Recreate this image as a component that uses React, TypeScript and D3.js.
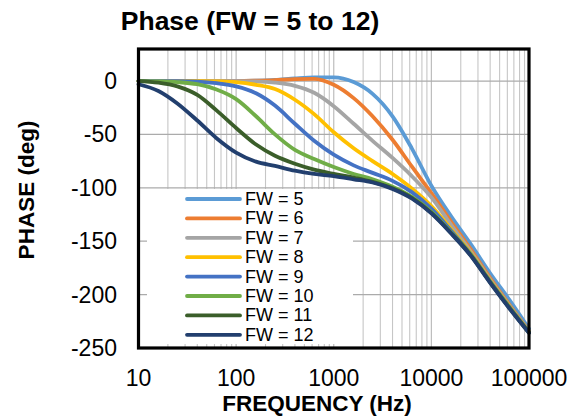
import React from "react";
import * as d3 from "d3";

const FREQ = [10, 16, 25, 40, 63, 100, 160, 250, 400, 630, 1000, 1600, 2500, 4000, 6300, 10000, 16000, 25000, 40000, 63000, 100000];

const FW5 = [0, 0, 0, 0, 0, 0, 0.3, 1, 2.5, 3.5, 3.5, -1, -12, -33, -63, -98, -127, -152, -180, -205, -232];
const FW6 = [0, 0, 0, 0, 0, 0, 0.3, 0.8, 1.8, 2, -3.5, -16, -33, -55, -80, -105, -132, -157, -184.5, -209.5, -234];
const FW7 = [0, 0, 0, 0, 0, 0, -0.3, -1.5, -4.5, -11, -23.5, -40, -56, -72, -89, -109, -135, -159, -186, -210.5, -234.5];
const FW8 = [0, 0, 0, 0, -0.3, -1, -3.5, -7.5, -17.5, -31, -48, -63, -75, -87, -100.5, -117, -139, -160.5, -187, -211, -235];
const FW9 = [0, 0, 0, -0.5, -2, -5, -11.5, -23, -40, -56, -69, -79, -86, -93.5, -104, -119.5, -140.5, -161.5, -187.5, -211.5, -235];
const FW10 = [0, -0.3, -1, -3, -8, -17, -33, -50, -64.5, -73, -80.5, -87, -92, -99, -108.5, -122.5, -142, -162, -188, -212, -235.5];
const FW11 = [0, -1.5, -5, -13, -27.5, -44, -59.5, -70, -77.5, -83, -87, -90.5, -94.5, -100.5, -109.5, -123.5, -142.5, -162.5, -188.5, -212.5, -235.5];
const FW12 = [-3, -9.3, -21, -37, -53.5, -67, -75.5, -79.5, -84, -87, -89, -92, -95, -101, -110, -124, -143, -163, -189, -213, -236];

const SERIES_NAMES = ["FW = 5", "FW = 6", "FW = 7", "FW = 8", "FW = 9", "FW = 10", "FW = 11", "FW = 12"];
const SERIES_VALUES = [FW5, FW6, FW7, FW8, FW9, FW10, FW11, FW12];
const COLORS = ["#5B9BD5", "#ED7D31", "#A5A5A5", "#FFC000", "#4472C4", "#70AD47", "#3B5E2A", "#223F6E"];

const Y_TICKS = [0, -50, -100, -150, -200, -250];
const X_TICKS = [10, 100, 1000, 10000, 100000];
const X_TICK_LABELS = ["10", "100", "1000", "10000", "100000"];

const TITLE = "Phase (FW = 5 to 12)";
const X_TITLE = "FREQUENCY (Hz)";
const Y_TITLE = "PHASE (deg)";

const W = 579;
const H = 417;
const PL = 138.5;
const PR = 529;
const PT = 49;
const PB = 348;
const FONT = "Arial, 'Liberation Sans', Helvetica, sans-serif";

export default function App() {
  const x = d3.scaleLog().domain([10, 100000]).range([PL, PR]);
  const y = d3.scaleLinear().domain([-250, 30]).range([PB, PT]);

  const minor: number[] = [];
  for (let dec = 10; dec < 100000; dec *= 10) {
    for (let m = 2; m <= 9; m++) minor.push(dec * m);
  }

  const line = d3
    .line<[number, number]>()
    .x((d) => x(d[0]))
    .y((d) => y(d[1]))
    .curve(d3.curveMonotoneX);

  const legX1 = 187;
  const legX2 = 240;
  const legY0 = 199;
  const legStep = 19.4;

  return (
    <svg width={W} height={H} style={{ position: "absolute", left: 0, top: 0, background: "#fff" }} fontFamily={FONT}>
      <rect x={0} y={0} width={W} height={H} fill="#fff" />
      {minor.map((f) => (
        <line key={"m" + f} x1={x(f)} x2={x(f)} y1={PT} y2={PB} stroke="#C6C6C6" strokeWidth={1.1} />
      ))}
      {X_TICKS.map((f) => (
        <line key={"M" + f} x1={x(f)} x2={x(f)} y1={PT} y2={PB} stroke="#BDBDBD" strokeWidth={1.2} />
      ))}
      {Y_TICKS.map((v) => (
        <line key={"h" + v} x1={PL} x2={PR} y1={y(v)} y2={y(v)} stroke="#ABABAB" strokeWidth={1.2} />
      ))}
      {SERIES_VALUES.map((vals, i) => (
        <path
          key={SERIES_NAMES[i]}
          d={line(FREQ.map((f, j) => [f, vals[j]] as [number, number])) || ""}
          fill="none"
          stroke={COLORS[i]}
          strokeWidth={3.8}
          strokeLinejoin="round"
          strokeLinecap="round"
        />
      ))}
      <rect x={147} y={189} width={206} height={155} fill="#fff" />
      {SERIES_NAMES.map((name, i) => (
        <g key={"lg" + name}>
          <line
            x1={legX1}
            x2={legX2}
            y1={legY0 + i * legStep}
            y2={legY0 + i * legStep}
            stroke={COLORS[i]}
            strokeWidth={3.8}
            strokeLinecap="round"
          />
          <text x={245} y={legY0 + i * legStep} dominantBaseline="central" fontSize={18} fill="#000">
            {name}
          </text>
        </g>
      ))}
      <rect x={PL} y={PT} width={PR - PL} height={PB - PT} fill="none" stroke="#000" strokeWidth={3.2} />
      {Y_TICKS.map((v) => (
        <text key={"yl" + v} x={117} y={y(v)} textAnchor="end" dominantBaseline="central" fontSize={23} fill="#000">
          {v}
        </text>
      ))}
      {X_TICKS.map((f, i) => (
        <text key={"xl" + f} x={x(f)} y={386} textAnchor="middle" fontSize={23} fill="#000">
          {X_TICK_LABELS[i]}
        </text>
      ))}
      <text x={250} y={30} textAnchor="middle" fontSize={26.5} fontWeight="bold" fill="#000">
        {TITLE}
      </text>
      <text x={317} y={411} textAnchor="middle" fontSize={22.5} fontWeight="bold" fill="#000">
        {X_TITLE}
      </text>
      <text transform="translate(34,190) rotate(-90)" textAnchor="middle" fontSize={22.5} fontWeight="bold" fill="#000">
        {Y_TITLE}
      </text>
    </svg>
  );
}
